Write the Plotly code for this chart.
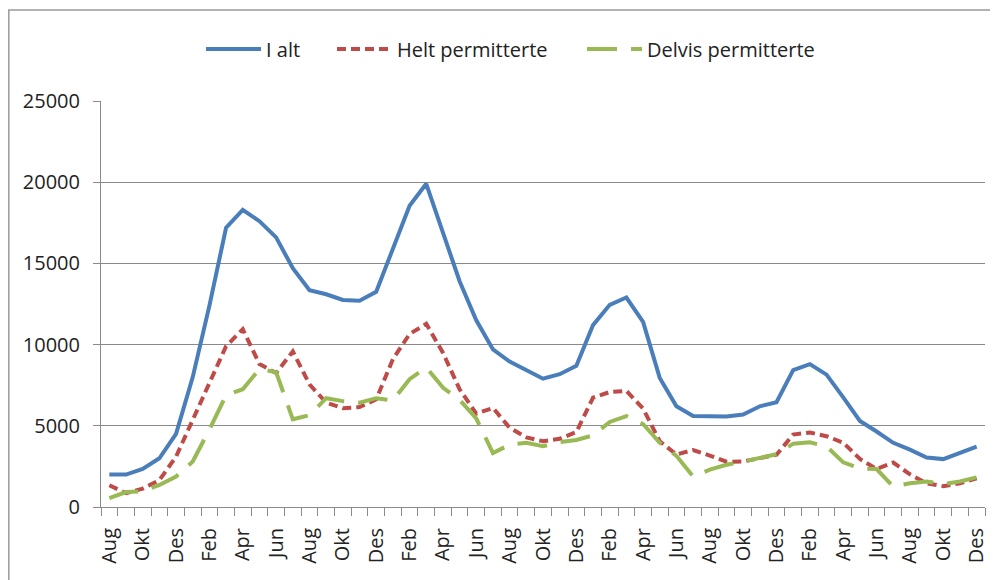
import plotly.graph_objects as go

# ---- data ----
month_labels = [
    "Aug", "Sep", "Okt", "Nov", "Des",
    "Jan", "Feb", "Mar", "Apr", "Mai", "Jun", "Jul", "Aug", "Sep", "Okt", "Nov", "Des",
    "Jan", "Feb", "Mar", "Apr", "Mai", "Jun", "Jul", "Aug", "Sep", "Okt", "Nov", "Des",
    "Jan", "Feb", "Mar", "Apr", "Mai", "Jun", "Jul", "Aug", "Sep", "Okt", "Nov", "Des",
    "Jan", "Feb", "Mar", "Apr", "Mai", "Jun", "Jul", "Aug", "Sep", "Okt", "Nov", "Des",
]

i_alt = [
    2000, 2000, 2350, 3000, 4500,
    8000, 12400, 17200, 18300, 17600, 16600, 14700, 13350, 13100, 12750, 12700, 13250,
    15950, 18550, 19900, 16900, 13900, 11500, 9700, 8950, 8400, 7900, 8180, 8700,
    11200, 12450, 12900, 11400, 7950, 6200, 5600, 5580, 5580, 5700, 6200, 6450,
    8430, 8800, 8150, 6750, 5300, 4650, 3950, 3530, 3050, 2950, 3320, 3720,
]

helt = [
    1340, 850, 1130, 1650, 3100,
    5400, 7550, 9900, 10950, 8800, 8250, 9580, 7550, 6430, 6080, 6150, 6630,
    9100, 10650, 11280, 9500, 7250, 5750, 6100, 4880, 4290, 4050, 4200, 4620,
    6730, 7080, 7150, 6060, 4050, 3230, 3510, 3170, 2790, 2800, 2990, 3220,
    4460, 4590, 4360, 3960, 2960, 2340, 2740, 2010, 1460, 1280, 1460, 1770,
]

delvis = [
    540, 920, 960, 1360, 1880,
    2800, 4770, 6890, 7250, 8500, 8300, 5400, 5650, 6700, 6520, 6420, 6700,
    6560, 7870, 8600, 7350, 6600, 5450, 3320, 3840, 3950, 3740, 4000, 4130,
    4410, 5240, 5600, 5110, 3950, 3150, 1880, 2300, 2600, 2800, 3010, 3250,
    3900, 3980, 3730, 2750, 2380, 2340, 1260, 1460, 1570, 1410, 1570, 1830,
]

series_names = ["I alt", "Helt permitterte", "Delvis permitterte"]
y_ticks = [0, 5000, 10000, 15000, 20000, 25000]
y_tick_text = ["0", "5000", "10000", "15000", "20000", "25000"]

x = list(range(len(month_labels)))

# ---- styling ----
FONT = "Open Sans"
TXT = "#222222"
GRID = "#8a8a8a"
W, H = 990, 572          # page body has an 8px margin
ML, MR, MT, MB = 93, 13, 93, 73
PW = W - ML - MR
PH = H - MT - MB


def fx(p):   # figure pixel -> paper x
    return (p - ML) / PW


def fy(p):   # figure pixel -> paper y
    return (H - MB - p) / PH


fig = go.Figure()
fig.add_trace(go.Scatter(
    x=x, y=i_alt, name=series_names[0], mode="lines", legend="legend",
    line=dict(color="#4A7EBB", width=4),
))
fig.add_trace(go.Scatter(
    x=x, y=helt, name=series_names[1], mode="lines", legend="legend2",
    line=dict(color="#BE4B48", width=4, dash="9px,5px"),
))
fig.add_trace(go.Scatter(
    x=x, y=delvis, name=series_names[2], mode="lines", legend="legend3",
    line=dict(color="#98B954", width=4, dash="30px,14px"),
))

leg_common = dict(
    orientation="h", yanchor="middle", y=fy(41), xanchor="left",
    font=dict(family=FONT, size=20, color=TXT), bgcolor="rgba(0,0,0,0)",
    itemwidth=55, borderwidth=0,
)

fig.update_layout(
    width=W, height=H,
    margin=dict(l=ML, r=MR, t=MT, b=MB, autoexpand=False),
    paper_bgcolor="white", plot_bgcolor="white",
    font=dict(family=FONT, size=20, color=TXT),
    showlegend=True,
    legend=dict(x=fx(201 - 8), **leg_common),
    legend2=dict(x=fx(332 - 8), **leg_common),
    legend3=dict(x=fx(582 - 8), **leg_common),
    xaxis=dict(
        range=[-0.5, len(x) - 0.5],
        tickmode="array", tickvals=x[::2], ticktext=month_labels[::2],
        tickangle=-90, ticks="", showgrid=False,
        showline=True, linecolor=GRID, linewidth=1,
        ticklabelstandoff=12,
        tickfont=dict(family=FONT, size=20, color=TXT),
        minor=dict(tickmode="array", tickvals=[v - 0.5 for v in x] + [len(x) - 0.5],
                   ticks="outside", ticklen=8, tickcolor=GRID, tickwidth=1, showgrid=False),
        zeroline=False,
    ),
    yaxis=dict(
        range=[0, 25000], tickmode="array", tickvals=y_ticks, ticktext=y_tick_text,
        ticks="outside", ticklen=7, tickcolor=GRID, tickwidth=1,
        showgrid=True, gridcolor=GRID, gridwidth=1,
        showline=True, linecolor=GRID, linewidth=1,
        ticklabelstandoff=9,
        tickfont=dict(family=FONT, size=20, color=TXT),
        zeroline=False,
    ),
    shapes=[dict(
        type="rect", xref="paper", yref="paper", layer="below",
        x0=fx(0.8), x1=fx(W + 20), y0=fy(H + 20), y1=fy(2),
        line=dict(color="#9a9a9a", width=1.5), fillcolor="rgba(0,0,0,0)",
    )],
)

fig.write_html("out.html")
